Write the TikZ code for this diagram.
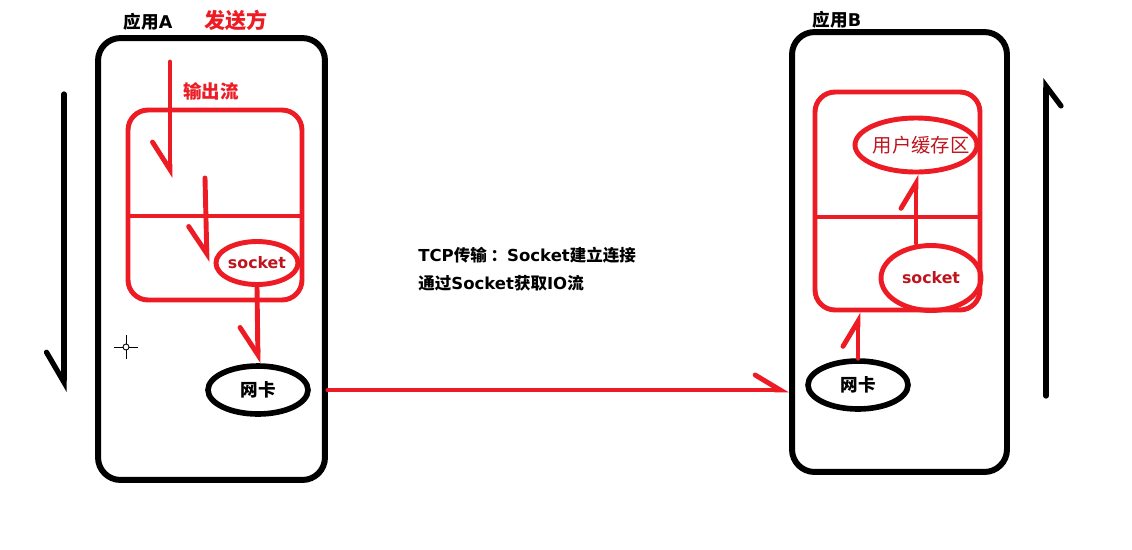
\documentclass[tikz,border=0pt]{standalone}
\usepackage{fontspec}
\setmainfont{Noto Sans CJK SC}
\newfontfamily\latin{DejaVu Sans}
\usepackage{tikz}
\usetikzlibrary{positioning, arrows.meta, shapes.geometric}
\definecolor{paintred}{RGB}{237,28,36}
\definecolor{darkpaintred}{RGB}{190,20,30}

\begin{document}
\begin{tikzpicture}[x=0.02cm, y=-0.02cm,
  every node/.style={font=\bfseries\fontsize{10}{12}\selectfont, inner sep=0pt},
  appbox/.style={draw, line width=3.4pt, rounded corners=0.45cm},
  redbox/.style={draw=paintred, line width=2.8pt, rounded corners=0.4cm},
  redoval/.style={ellipse, draw=paintred, line width=2.8pt, text=darkpaintred},
  nicoval/.style={ellipse, draw, line width=3.2pt, minimum width=2cm, minimum height=0.96cm},
  flowdown/.style={draw=paintred, line width=2.8pt, line cap=round,
    -{Straight Barb[right, length=0.55cm, width=0.7cm, line cap=round]}},
  flowup/.style={draw=paintred, line width=2.8pt, line cap=round,
    -{Straight Barb[left, length=0.5cm, width=0.6cm, line cap=round]}},
  bigarrow/.style={draw, line width=3pt, line cap=round}]
\useasboundingbox (0,0) rectangle (1132,549);

% Define the nodes
\node[appbox, minimum width=4.54cm, minimum height=8.84cm] (appA) at (211.5, 259) {};
\node[appbox, minimum width=4.3cm, minimum height=8.8cm] (appB) at (899.5, 252) {};
\node (lblA) at (148, 22) {应用{\latin A}};
\node[text=paintred, font=\bfseries\fontsize{12}{14}\selectfont] (sender) at (236, 20) {发送方};
\node (lblB) at (837, 20) {应用{\latin B}};

\node[redbox, minimum width=3.48cm, minimum height=3.8cm] (bufA) at (215, 205) {};
\node[redbox, minimum width=3.3cm, minimum height=4.36cm] (bufB) at (897.5, 201) {};
\node[text=paintred, font=\bfseries\fontsize{10.5}{12}\selectfont] (outflow) at (211, 91) {输出流};

\node[redoval, minimum width=1.6cm, minimum height=0.86cm,
  font=\latin\bfseries\fontsize{9}{10}\selectfont] (sockA) at (257, 263) {socket};
\node[redoval, minimum width=2cm, minimum height=1.3cm,
  font=\latin\bfseries\fontsize{9}{10}\selectfont] (sockB) at (931, 278) {socket};
\node[redoval, minimum width=2.44cm, minimum height=1.08cm, inner xsep=-0.4cm,
  font=\fontsize{11}{12}\selectfont] (userbuf) at (916, 145) {\hspace{0.2cm}用户缓存区};

\node[nicoval] (nicA) at (258, 390) {网卡};
\node[nicoval] (nicB) at (858, 385) {网卡};

\node[anchor=west, align=left, font=\bfseries\fontsize{9.4}{16}\selectfont] (info) at (418, 269)
  {{\latin TCP}传输 ：{\latin Socket}建立连接\\通过{\latin Socket}获取{\latin IO}流};

\coordinate (in1) at (170, 62);
\coordinate (out1) at (170, 178);
\coordinate (in2) at (205, 178);
\coordinate (out2) at (207, 262);
\coordinate (downtop) at (64, 94);
\coordinate (downbot) at (64, 392);
\coordinate (uptop) at (1046, 78);
\coordinate (upbot) at (1046, 396);

% Dividers of the red boxes
\draw[paintred, line width=2.8pt] (bufA.west |- 0,216) -- (bufA.east |- 0,216);
\draw[paintred, line width=2.8pt] (bufB.west |- 0,217) -- (bufB.east |- 0,217);

% Draw the flows
\draw[flowdown] (in1) -- (out1);
\draw[flowdown] (in2) -- (out2);
\draw[flowdown] (sockA.south) -- (nicA.north);
\draw[flowup] (sockB.north -| userbuf.south) -- (userbuf.south);
\draw[flowup] (nicB.north) -- (nicB.north |- bufB.south);
\draw[flowup] (appA.east |- nicA) -- (appB.west |- nicA);

% Big direction arrows
\draw[bigarrow, -{Straight Barb[right, length=0.6cm, width=0.7cm, line cap=round]}] (downtop) -- (downbot);
\draw[bigarrow, -{Straight Barb[right, length=0.4cm, width=0.6cm, line cap=round]}] (upbot) -- (uptop);

% Cursor
\draw[line width=0.5pt] (114,347) -- (138,347) (126,335) -- (126,359);
\draw[line width=0.5pt, fill=white] (126,347) circle (0.06cm);
\end{tikzpicture}
\end{document}
